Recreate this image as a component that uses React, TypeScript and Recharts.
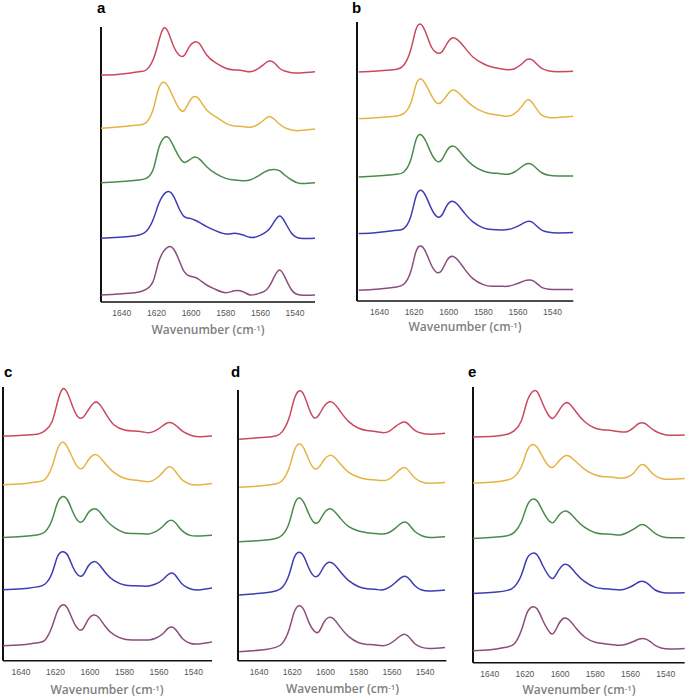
import React from 'react';
import { LineChart, Line, XAxis, YAxis, ReferenceLine } from 'recharts';

// Shared wavenumber grid (cm-1), descending
const wavenumbers = [1652, 1644, 1636, 1630, 1626, 1622, 1619, 1616, 1613, 1610, 1607, 1604, 1601, 1598, 1595, 1591, 1586, 1580, 1575, 1570, 1566, 1562, 1558, 1555, 1552, 1549, 1546, 1542, 1537, 1528];
const xTicks = [1640, 1620, 1600, 1580, 1560, 1540];
const seriesKeys = ['red', 'yellow', 'green', 'blue', 'purple'];
const seriesColors = ['#c94a5e', '#e5b443', '#4a8a4c', '#3d3db3', '#8a4d7e'];

// Panel a (relative absorbance, arbitrary units)
const aRed = [0, 0.3, 1.7, 3.3, 5, 15, 31.7, 46.5, 42, 28.3, 20, 19.5, 28.3, 33, 31, 20, 12.3, 6.7, 5, 4.3, 3.3, 5.7, 10.7, 14, 12.3, 6.7, 4, 2.3, 2, 3.3];
const aYellow = [0, 1, 2.3, 3.3, 5.7, 18.3, 38.3, 46, 41, 30, 20, 17.7, 26.7, 31.7, 28.3, 18.3, 11.7, 5, 2.3, 1.7, 1, 3.3, 8.3, 11.7, 9, 4.3, 0.7, -1.7, -2.3, -0.7];
const aGreen = [0, 0.7, 1.7, 2.7, 4.3, 12.7, 32.7, 44.3, 45, 36, 26, 20.3, 22.7, 25.7, 23.3, 16, 9.3, 4.3, 2.7, 2, 2.7, 6, 10.3, 12.7, 13.3, 12, 7.7, 2.7, -0.7, 0];
const aBlue = [0, 0.7, 1.7, 3.3, 6.7, 18.3, 33.3, 43.3, 46.7, 41.7, 30, 21.7, 20, 18.3, 15.7, 11.7, 7.7, 4.3, 5, 3.3, 1, 1.7, 5, 9, 16.7, 22.3, 16.7, 5, 0, 0];
const aPurple = [0, 0.7, 1.7, 3, 5.7, 13.3, 31.7, 43.3, 48.3, 45.7, 35, 23.3, 19, 17.7, 15, 10, 5.7, 2.3, 4.3, 3.3, 0, 1, 3.3, 8.3, 18.3, 25, 18.3, 5, 0, 0];

// Panel b
const bRed = [0, 0.7, 1.7, 2.7, 6.7, 21.7, 42.3, 47.7, 38.3, 25, 19.3, 20, 28.3, 34, 32.3, 25, 15, 8.3, 5, 3.3, 2.3, 3.3, 7.7, 12.3, 12.3, 7.7, 3.3, 1, 0.3, 0.7];
const bYellow = [0, 0.7, 1.7, 2.7, 5, 15, 33.3, 39.7, 33.3, 23.3, 15.7, 16.7, 23.3, 28.3, 26.7, 20, 12.3, 6.7, 4.3, 3, 2.3, 5, 11.7, 18.3, 16.7, 9, 3.3, 1, 1, 2.3];
const bGreen = [0, 0.7, 1.7, 2.7, 5, 16.7, 36.7, 42.3, 35, 23.3, 16, 17.3, 26.7, 31, 28.3, 20, 11.7, 6, 4, 3.3, 2.7, 5, 10, 13.3, 12.7, 8.3, 4, 1.7, 1, 1];
const bBlue = [0, 0.7, 2, 3.3, 5, 16.7, 36.7, 43.3, 36.7, 25, 17.3, 18.3, 28.3, 32.3, 29.3, 20.7, 11.7, 5.7, 4, 3.7, 4, 6, 9.3, 12, 11.7, 7.3, 3.3, 1.3, 0.7, 1];
const bPurple = [0, 0.7, 2, 3.3, 6, 18.3, 38.3, 44.3, 37.3, 25, 18, 20, 30, 34, 30.7, 21.7, 11.7, 5.7, 4, 4, 4, 5.7, 8.3, 10, 10, 6.7, 2.7, 1, 0.7, 0.7];

// Panel c
const cRed = [0, 0.3, 1, 2, 5.3, 14.3, 32.7, 46.7, 42.7, 29.3, 19.3, 18.7, 26, 32.7, 32.7, 22.7, 11, 6, 5, 4.3, 3.3, 5.3, 10, 13.3, 12.7, 8.7, 4.3, 1, -0.7, 0.3];
const cYellow = [0, 0.7, 1.7, 3.3, 5.7, 18.3, 35, 42.7, 37.7, 26.7, 17.7, 17.3, 25, 30, 29, 21, 12.3, 6.7, 5, 4, 3.3, 6, 12.3, 17.7, 16.7, 10, 4.3, 0.7, 0, 1.7];
const cGreen = [0, 0.7, 1.7, 3, 6, 17.7, 34.3, 41, 37.7, 26, 17, 16.7, 25, 28.7, 27, 18.3, 10.3, 5, 4.3, 4, 3.7, 6, 11, 16, 17, 11.7, 6, 2.3, 1.7, 2.7];
const cBlue = [0, 0.7, 1.7, 3.3, 6, 16.7, 32.7, 38.3, 35, 23.3, 15, 15, 24, 28.3, 26, 17.3, 9.3, 5, 4.3, 4, 4, 6, 10, 15, 16.7, 11.3, 5, 1.3, 0, 2.3];
const cPurple = [0, 0.7, 1.7, 3.3, 6, 19.3, 34.3, 41, 37.7, 26, 17.3, 17.3, 26.7, 31, 28.7, 19.3, 11, 6.7, 6, 6, 6, 7.7, 12, 17.3, 18.7, 13.3, 6.7, 2.7, 2, 4.3];

// Panel d
const dRed = [0, 1, 2, 3.3, 7.7, 21, 39.3, 48.3, 44.3, 31, 21.7, 24.3, 32.7, 37.3, 36, 27.7, 17.7, 11, 8.7, 7.7, 6.7, 7.7, 12.7, 16, 17.3, 13.3, 8.7, 6, 5, 6];
const dYellow = [0, 0.7, 2, 3.3, 6.7, 19, 35.7, 43.3, 39, 27.3, 19, 20, 27.3, 31.7, 30.7, 23.3, 15, 10, 8, 7.3, 6.7, 8, 13.3, 18, 19.7, 14.7, 9, 5.3, 4, 4.7];
const dGreen = [0, 0.7, 1.7, 3.3, 6.7, 18.3, 36, 43.7, 39, 27.7, 19.3, 20, 28.3, 32.7, 31, 23.3, 15, 10.7, 9, 8.3, 7.7, 9, 13.3, 17.7, 19.7, 15.7, 10, 6, 4.3, 5];
const dBlue = [0, 1, 2.3, 4, 7.7, 20, 36.7, 42.7, 38.3, 26.7, 19, 20, 28.3, 32.7, 31, 23.3, 14.3, 8.3, 6.3, 5.7, 5, 7.3, 12.3, 16.7, 18.7, 15, 9, 5, 4, 5];
const dPurple = [0, 1, 2.3, 4.3, 8.3, 21.7, 39, 46, 41.7, 29.3, 21, 20, 29.3, 34.3, 32.7, 24.3, 15, 9, 7.3, 6.7, 6, 7.3, 11.7, 15.7, 17.3, 13.3, 7.7, 4.3, 3.3, 4.3];

// Panel e
const eRed = [0, 0.3, 1, 2.7, 6.3, 16.3, 34.3, 44.7, 45.3, 33.7, 23, 18.7, 25.3, 32.7, 33.7, 25.3, 15.3, 8.7, 7, 6.3, 5.3, 5.3, 9.7, 13.7, 13.7, 9.7, 6, 3, 1.7, 2];
const eYellow = [0, 0.3, 1.3, 3, 6.3, 16.3, 31.3, 38.3, 35.7, 26.3, 18, 15.7, 21.3, 26.3, 27, 21.3, 13.7, 8, 6.3, 5.7, 4.7, 5.7, 10.3, 17, 18, 12.3, 7.3, 4.3, 3.7, 4.7];
const eGreen = [0, 0.7, 1.7, 3, 6.3, 17, 32, 39.3, 37.7, 28, 19.3, 16, 22.7, 27.3, 26.3, 19.3, 11.3, 6, 4.7, 4.3, 3.7, 6, 9.7, 13.3, 13.7, 9.7, 5.3, 2, 1, 1];
const eBlue = [0, 0.7, 1.7, 3.3, 7, 18.7, 34.3, 40.3, 38.7, 28.7, 19.3, 15.3, 23, 29, 28, 20.3, 12, 6.3, 5, 4.3, 3.7, 5.3, 8.7, 12, 12, 8.3, 3.7, 1.3, 0.7, 1];
const ePurple = [0, 0.7, 2, 4, 7.3, 20.7, 37.3, 44, 42, 31.3, 21.3, 17.3, 26.3, 32.7, 31.3, 23, 14, 8.7, 7.3, 6.3, 5.7, 7, 9.7, 12, 12.3, 9.7, 5.7, 2.7, 2, 2.7];

// Stacking offsets for each trace (red, yellow, green, blue, purple)
const aOffsets = [227, 173.7, 119.3, 63.7, 7];
const bOffsets = [229, 182.4, 124, 67.4, 10.7];
const cOffsets = [224.7, 175.7, 123, 70.7, 14.7];
const dOffsets = [221.4, 173.4, 119, 65.7, 9];
const eOffsets = [225.7, 179.7, 124, 69, 11.7];

type Panel = {
  id: string;
  plot: [number, number, number, number]; // left, top, right, bottom
  xDomain: [number, number];
  offsets: number[];
  series: number[][];
  letter: [number, number];
  title: [number, number];
};

const panels: Panel[] = [
  { id: 'a', plot: [101, 27, 315, 302], xDomain: [1528.5, 1652], offsets: aOffsets, series: [aRed, aYellow, aGreen, aBlue, aPurple], letter: [97, 0], title: [208, 330] },
  { id: 'b', plot: [356.7, 21.7, 573, 300.7], xDomain: [1528, 1653], offsets: bOffsets, series: [bRed, bYellow, bGreen, bBlue, bPurple], letter: [352, 0], title: [465, 327] },
  { id: 'c', plot: [2.7, 387, 211.7, 660.7], xDomain: [1529.3, 1650.4], offsets: cOffsets, series: [cRed, cYellow, cGreen, cBlue, cPurple], letter: [4, 364], title: [107, 690] },
  { id: 'd', plot: [238.3, 390, 446.7, 660.7], xDomain: [1527.2, 1652.7], offsets: dOffsets, series: [dRed, dYellow, dGreen, dBlue, dPurple], letter: [231, 364], title: [342.5, 689] },
  { id: 'e', plot: [473.3, 387, 685, 662.7], xDomain: [1529.2, 1649.5], offsets: eOffsets, series: [eRed, eYellow, eGreen, eBlue, ePurple], letter: [468, 364], title: [579, 690] },
];

const M = 4;
const XH = 40;

function SpectraPanel({ p }: { p: Panel }) {
  const [l, t, r, b] = p.plot;
  const w = r - l;
  const h = b - t;
  const data = wavenumbers.map((wn, i) => {
    const row: Record<string, number> = { wn };
    seriesKeys.forEach((k, j) => {
      row[k] = p.offsets[j] + p.series[j][i];
    });
    return row;
  });
  return (
    <div style={{ position: 'absolute', left: l - M, top: t - M }}>
      <LineChart width={w + 2 * M} height={h + M + XH} data={data} margin={{ top: M, right: M, left: M, bottom: 0 }}>
        <XAxis
          dataKey="wn"
          type="number"
          domain={p.xDomain}
          reversed
          allowDataOverflow
          ticks={xTicks}
          interval={0}
          tickLine={false}
          axisLine={{ stroke: '#111', strokeWidth: 1.5 }}
          tick={{ fill: '#555', fontSize: 8.5, fontFamily: 'Liberation Sans, Arial, sans-serif' }}
          height={XH}
        />
        <YAxis hide type="number" domain={[0, h]} allowDataOverflow />
        <ReferenceLine x={p.xDomain[1]} stroke="#111" strokeWidth={2} />
        {seriesKeys.map((k, j) => (
          <Line
            key={k}
            dataKey={k}
            type="natural"
            stroke={seriesColors[j]}
            strokeWidth={1.5}
            dot={false}
            isAnimationActive={false}
          />
        ))}
      </LineChart>
    </div>
  );
}

export default function App() {
  return (
    <div style={{ position: 'absolute', left: 0, top: 0, width: 685, height: 699, background: '#fff', overflow: 'hidden' }}>
      {panels.map((p) => (
        <SpectraPanel key={p.id} p={p} />
      ))}
      {panels.map((p) => (
        <div
          key={'l' + p.id}
          style={{ position: 'absolute', left: p.letter[0], top: p.letter[1], fontFamily: 'Liberation Sans, Arial, sans-serif', fontWeight: 700, fontSize: 15, lineHeight: '15px', color: '#000' }}
        >
          {p.id}
        </div>
      ))}
      {panels.map((p) => (
        <div
          key={'t' + p.id}
          style={{ position: 'absolute', left: p.title[0] - 80, width: 160, top: p.title[1] - 8, lineHeight: '16px', textAlign: 'center', fontFamily: '"Open Sans", sans-serif', fontWeight: 600, fontSize: 12, color: '#7f7f7f', whiteSpace: 'nowrap' }}
        >
          Wavenumber (cm<span style={{ fontSize: '0.65em', position: 'relative', top: '-0.45em' }}>-1</span>)
        </div>
      ))}
    </div>
  );
}
